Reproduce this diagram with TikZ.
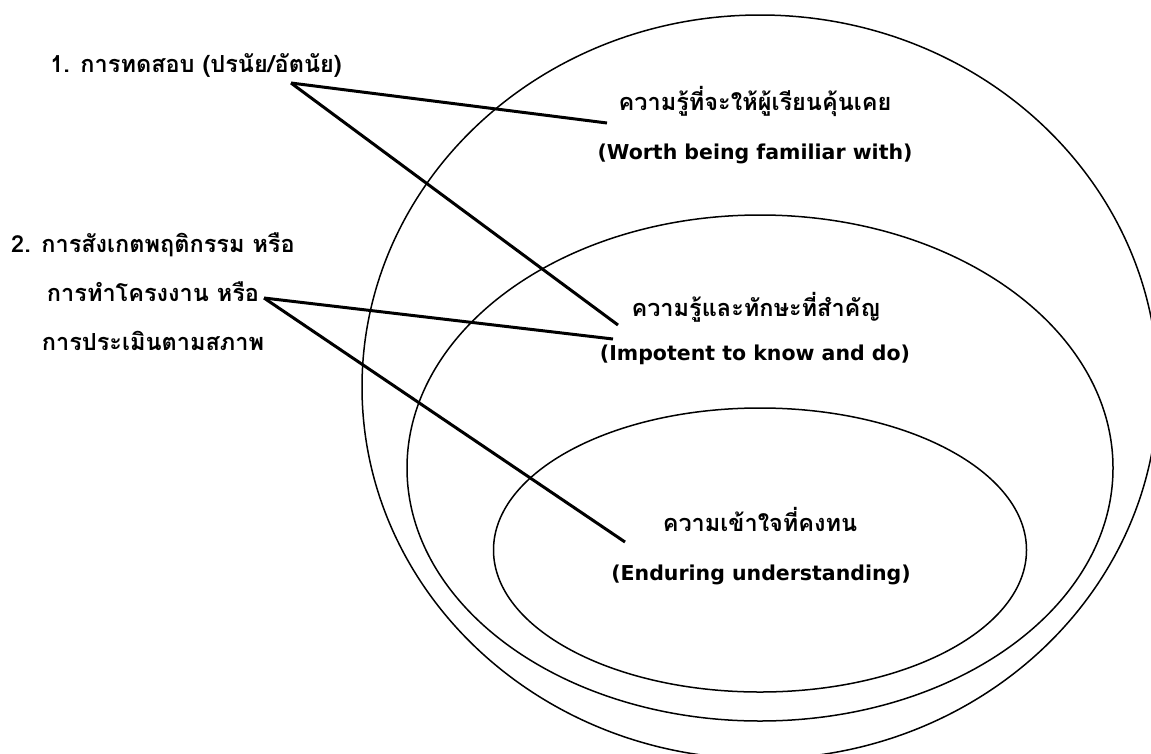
\documentclass[tikz,border=0pt]{standalone}
\usepackage{fontspec}
\newfontfamily\thaifont[Script=Thai]{Loma}
\newfontfamily\latfont{DejaVu Sans}
\usetikzlibrary{shapes.geometric}
\tikzset{
  ring/.style={draw, ellipse, line width=1.5pt, inner sep=0pt},
  lbl/.style={font=\thaifont\bfseries\fontsize{23.5}{28}\selectfont, anchor=base, inner sep=0pt},
  elbl/.style={font=\latfont\bfseries\fontsize{20.5}{25}\selectfont, anchor=base, inner sep=0pt},
  link/.style={line width=3pt, line cap=butt}
}
\begin{document}
\begin{tikzpicture}[x=1pt,y=-1pt]
\useasboundingbox (0,0) rectangle (1151,753);
% rings
\node[ring, minimum width=796pt, minimum height=744pt] (outer) at (760,387) {};
\node[ring, minimum width=706pt, minimum height=506pt] (middle) at (760,468) {};
\node[ring, minimum width=533pt, minimum height=284pt] (inner) at (760,550) {};
% left texts
\node[lbl] (m1) at (196,72) {1. การทดสอบ (ปรนัย/อัตนัย)};
\node[lbl] (m2a) at (153,252) {2. การสังเกตพฤติกรรม หรือ};
\node[lbl] (m2b) at (153,301) {การทำโครงงาน หรือ};
\node[lbl] (m2c) at (153,350) {การประเมินตามสภาพ};
% right texts
\node[lbl] (r1a) at (755,110) {ความรู้ที่จะให้ผู้เรียนคุ้นเคย};
\node[elbl] (r1b) at (755,159) {(Worth being familiar with)};
\node[lbl] (r2a) at (756,316) {ความรู้และทักษะที่สำคัญ};
\node[elbl] (r2b) at (755,360) {(Impotent to know and do)};
\node[lbl] (r3a) at (760,531) {ความเข้าใจที่คงทน};
\node[elbl] (r3b) at (761,580) {(Enduring understanding)};
% connector ends
\coordinate (s1) at (291,83);
\coordinate (s2) at (264,298);
\coordinate (e1) at (607,123);
\coordinate (e2) at (618,325);
\coordinate (e3) at (613,339);
\coordinate (e4) at (625,542);
\draw[link] (s1) -- (e1);
\draw[link] (s1) -- (e2);
\draw[link] (s2) -- (e3);
\draw[link] (s2) -- (e4);
\end{tikzpicture}
\end{document}
